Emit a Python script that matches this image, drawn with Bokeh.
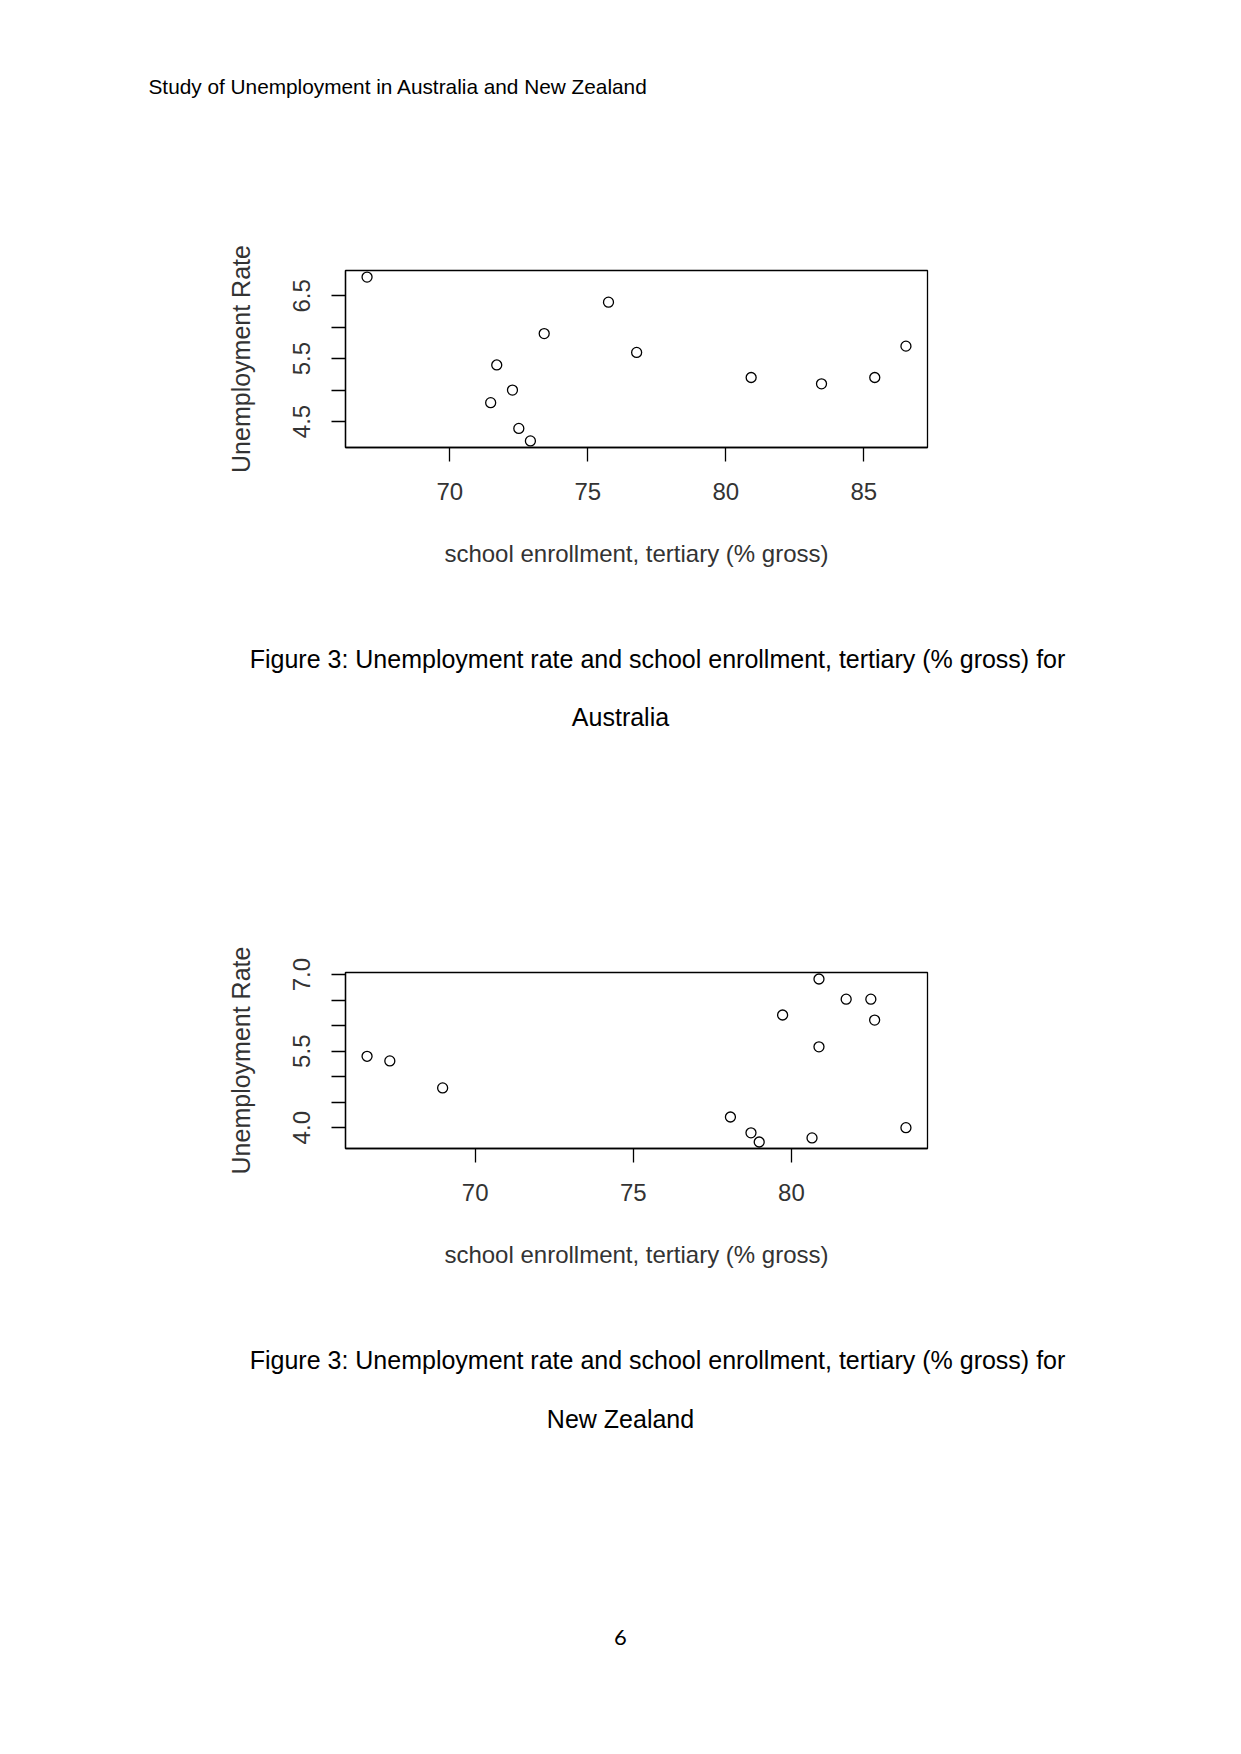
from bokeh.plotting import figure
from bokeh.models import Range1d, FixedTicker, Label
from bokeh.layouts import column
from bokeh.embed import file_html
from bokeh.resources import INLINE

# ---- data ----
au_enrollment = [67.0, 75.75, 73.42, 71.7, 72.27, 71.48, 72.5, 72.92, 76.77, 80.92, 83.47, 85.4, 86.53]
au_unemployment = [6.80, 6.40, 5.90, 5.40, 5.00, 4.80, 4.39, 4.19, 5.60, 5.20, 5.10, 5.20, 5.70]

nz_enrollment = [66.58, 67.30, 68.97, 78.07, 78.72, 78.98, 79.72, 80.65, 80.87, 80.87, 81.73, 82.51, 82.63, 83.62]
nz_unemployment = [5.40, 5.31, 4.78, 4.21, 3.90, 3.72, 6.21, 3.80, 6.915, 5.585, 6.52, 6.52, 6.11, 4.00]

au_x_ticks = [70, 75, 80, 85]
au_y_ticks = [4.5, 5.0, 5.5, 6.0, 6.5]
au_y_labels = {4.5: "4.5", 5.0: "", 5.5: "5.5", 6.0: "", 6.5: "6.5"}

nz_x_ticks = [70, 75, 80]
nz_y_ticks = [4.0, 4.5, 5.0, 5.5, 6.0, 6.5, 7.0]
nz_y_labels = {4.0: "4.0", 4.5: "", 5.0: "", 5.5: "5.5", 6.0: "", 6.5: "", 7.0: "7.0"}

header_text = "Study of Unemployment in Australia and New Zealand"
caption_line1 = "Figure 3: Unemployment rate and school enrollment, tertiary (% gross) for"
caption_au = "Australia"
caption_nz = "New Zealand"
page_number = "6"
x_title = "school enrollment, tertiary (% gross)"
y_title = "Unemployment Rate"

PAGE_W = 1241
TXT = "#333333"


def padded(vals):
    lo, hi = min(vals), max(vals)
    d = (hi - lo) * 0.04
    return Range1d(lo - d, hi + d)


def text_panel(page_top, page_bottom):
    h = page_bottom - page_top
    p = figure(width=PAGE_W, height=h, output_backend="svg", toolbar_location=None,
               x_range=Range1d(0, PAGE_W), y_range=Range1d(page_bottom, page_top),
               x_axis_location=None, y_axis_location=None,
               min_border=0, min_border_left=0, min_border_right=0,
               min_border_top=0, min_border_bottom=0)
    try:
        p.frame_align = False
    except Exception:
        pass
    p.grid.visible = False
    p.outline_line_color = None
    p.background_fill_color = "white"
    p.border_fill_color = "white"
    return p


def add_text(p, text, x, y, size, align="center", font="Liberation Sans", color="black"):
    p.add_layout(Label(x=x, y=y, text=text, text_font=font, text_font_size=size,
                       text_color=color, text_align=align, text_baseline="middle"))


def make_plot(xs, ys, xticks, yticks, ylabels, page_top, page_bottom, frame_top, frame_bottom):
    left, right = 345, 927
    h = page_bottom - page_top
    p = figure(width=PAGE_W, height=h, output_backend="svg", toolbar_location=None,
               x_range=padded(xs), y_range=padded(ys),
               min_border_left=left, min_border_right=PAGE_W - right,
               min_border_top=frame_top - page_top, min_border_bottom=page_bottom - frame_bottom)
    p.background_fill_color = "white"
    p.border_fill_color = "white"
    p.outline_line_color = "black"
    p.outline_line_width = 1.3
    p.grid.visible = False

    p.scatter(xs, ys, size=10, marker="circle", fill_color=None,
              line_color="black", line_width=1.3)

    for ax in (p.xaxis[0], p.yaxis[0]):
        ax.axis_line_color = "black"
        ax.axis_line_width = 1.3
        ax.major_tick_line_color = "black"
        ax.major_tick_line_width = 1.3
        ax.major_tick_out = 14
        ax.major_tick_in = 0
        ax.minor_tick_line_color = None
        ax.major_label_text_font = "Liberation Sans"
        ax.major_label_text_font_size = "24px"
        ax.major_label_text_color = TXT
        ax.axis_label_text_font = "Liberation Sans"
        ax.axis_label_text_font_size = "24px"
        ax.axis_label_text_font_style = "normal"
        ax.axis_label_text_color = TXT

    p.xaxis[0].ticker = FixedTicker(ticks=xticks)
    p.xaxis[0].major_label_standoff = 21
    p.xaxis[0].axis_label = x_title
    p.xaxis[0].axis_label_standoff = 37

    p.yaxis[0].ticker = FixedTicker(ticks=yticks)
    p.yaxis[0].major_label_overrides = ylabels
    p.yaxis[0].major_label_orientation = "vertical"
    p.yaxis[0].major_label_standoff = 21
    p.yaxis[0].axis_label = y_title
    p.yaxis[0].axis_label_text_font_size = "25px"
    p.yaxis[0].axis_label_standoff = 36
    return p


hdr = text_panel(0, 170)
add_text(hdr, header_text, 148, 86, "20.8px", align="left")

p1 = make_plot(au_enrollment, au_unemployment, au_x_ticks, au_y_ticks, au_y_labels,
               170, 600, 270, 447)

cap1 = text_panel(600, 877)
add_text(cap1, caption_line1, 657, 658, "25px")
add_text(cap1, caption_au, 620, 716, "25px")

p2 = make_plot(nz_enrollment, nz_unemployment, nz_x_ticks, nz_y_ticks, nz_y_labels,
               877, 1300, 972, 1148)

cap2 = text_panel(1300, 1754)
add_text(cap2, caption_line1, 657, 1359, "25px")
add_text(cap2, caption_nz, 620, 1418, "25px")
add_text(cap2, page_number, 620, 1637, "22px", font="Lato")

layout = column(hdr, p1, cap1, p2, cap2, spacing=0)
open("out.html", "w").write(file_html(layout, INLINE))
